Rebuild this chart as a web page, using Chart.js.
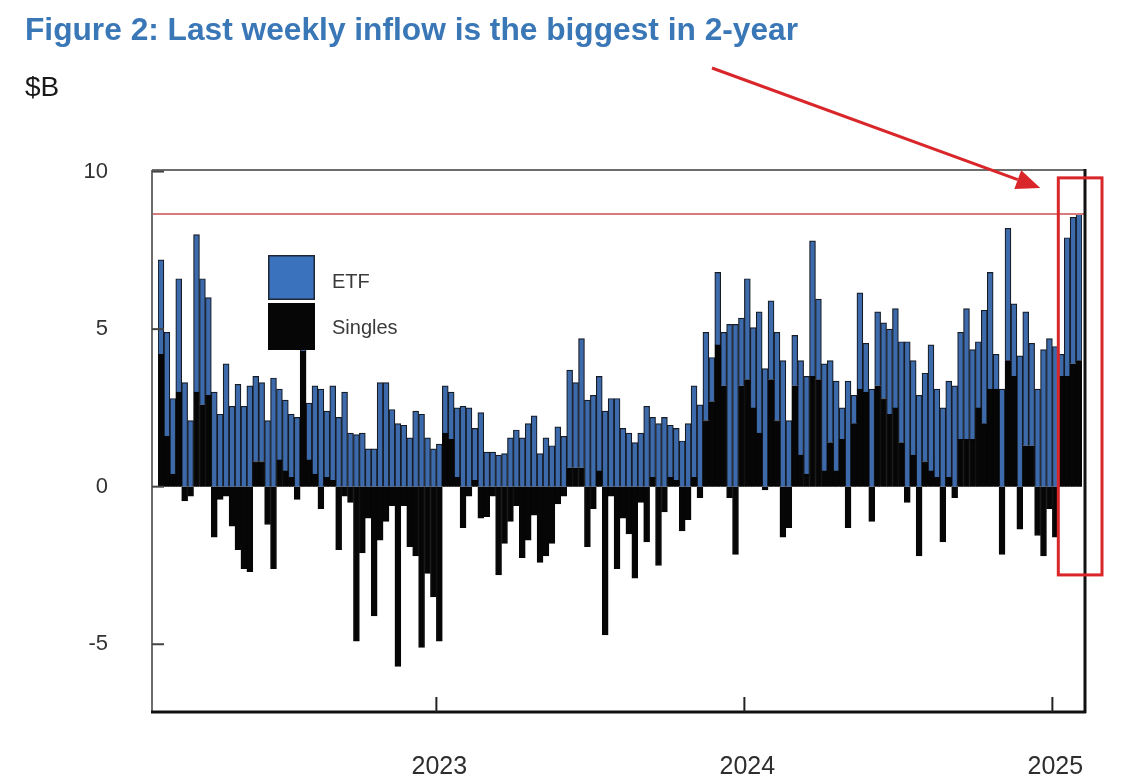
<!DOCTYPE html>
<html>
<head>
<meta charset="utf-8">
<title>Figure 2: Last weekly inflow is the biggest in 2-year</title>
<script src="https://cdn.jsdelivr.net/npm/chart.js@4.4.1/dist/chart.umd.min.js"></script>
<style>
  html, body { margin: 0; padding: 0; background: #fff; }
  #wrap { position: relative; width: 1134px; height: 784px; overflow: hidden; }
  #chart { position: absolute; left: 0; top: 0; }
  .title {
    position: absolute; left: 25px; top: 14px; white-space: nowrap;
    font: bold 31.7px 'Liberation Sans', Arial, sans-serif; line-height: 1;
    color: #3a77b7;
  }
  .unit {
    position: absolute; left: 25px; top: 73px;
    font: 28px 'Liberation Sans', Arial, sans-serif; line-height: 1;
    color: #1a1a1a;
  }
</style>
</head>
<body>
<div id="wrap">
  <canvas id="chart" width="1134" height="784"></canvas>
  <div class="title">Figure 2: Last weekly inflow is the biggest in 2-year</div>
  <div class="unit">$B</div>
</div>
<script>
// Weekly retail net flows, $B
const WEEK_START = '2022-02-11';
const WEEK_COUNT = 156;

const SINGLES = [
  4.2, 1.6, 0.4, 3.0, -0.45, -0.3, 3.0, 2.6, 2.9, -1.6,
  -0.4, -0.3, -1.25, -2.0, -2.6, -2.7, 0.8, 0.8, -1.2, -2.6,
  0.85, 0.5, 0.3, -0.4, 4.3, 0.85, 0.4, -0.7, 0.3, 0.2,
  -2.0, -0.3, -0.5, -4.9, -2.1, -1.0, -4.1, -1.7, -1.1, -0.6,
  -5.7, -0.6, -1.9, -2.2, -5.1, -2.75, -3.5, -4.9, 1.7, 1.5,
  0.3, -1.3, -0.3, 0.2, -1.0, -0.95, -0.3, -2.8, -1.8, -1.1,
  -0.6, -2.25, -1.7, -0.9, -2.4, -2.2, -1.8, -0.55, -0.3, 0.6,
  0.6, 0.6, -1.9, -0.7, 0.5, -4.7, -0.3, -2.6, -1.0, -1.5,
  -2.9, -0.5, -1.75, 0.3, -2.5, -0.8, 0.3, 0.2, -1.4, -1.05,
  0.3, -0.35, 2.1, 2.7, 4.5, 3.2, -0.35, -2.15, 3.2, 3.4,
  2.5, 1.7, -0.1, 3.4, 2.1, -1.6, -1.3, 3.2, 1.0, 0.4,
  3.5, 3.4, 0.5, 1.4, 0.5, 1.5, -1.3, 2.0, 3.1, 3.0,
  -1.1, 3.2, 2.8, 2.3, 2.5, 1.4, -0.5, 1.0, -2.2, 0.8,
  0.5, 0.3, -1.75, 0.3, -0.35, 1.5, 1.5, 1.5, 2.5, 2.0,
  3.1, 3.1, -2.15, 4.0, 3.5, -1.35, 1.3, 1.3, -1.55, -2.2,
  -0.7, -1.6, 3.5, 3.5, 3.9, 4.0
];

const ETF = [
  3.0, 3.3, 2.4, 3.6, 3.3, 2.1, 5.0, 4.0, 3.1, 3.0,
  2.3, 3.9, 2.55, 3.25, 2.55, 3.2, 2.7, 2.5, 2.1, 3.45,
  2.25, 2.25, 2.0, 2.2, 0.3, 1.8, 2.8, 3.1, 2.1, 3.0,
  2.2, 3.0, 1.7, 1.65, 1.7, 1.2, 1.2, 3.3, 3.3, 2.45,
  2.0, 1.95, 1.55, 2.4, 2.3, 1.55, 1.2, 1.35, 1.5, 1.5,
  2.2, 2.55, 2.5, 1.65, 2.35, 1.1, 1.1, 1.0, 1.05, 1.55,
  1.8, 1.55, 2.0, 2.25, 1.05, 1.55, 1.3, 1.9, 1.6, 3.1,
  2.7, 4.1, 2.75, 2.9, 3.0, 2.4, 2.8, 2.8, 1.85, 1.7,
  1.4, 1.7, 2.55, 1.9, 2.0, 2.2, 1.65, 1.65, 1.45, 2.0,
  2.9, 2.6, 2.8, 1.4, 2.3, 1.7, 5.15, 5.15, 2.15, 3.2,
  2.55, 3.85, 3.75, 2.5, 2.8, 4.0, 2.1, 1.6, 3.0, 3.1,
  4.3, 2.55, 3.4, 2.6, 2.85, 1.0, 3.35, 0.9, 3.05, 1.55,
  3.1, 2.35, 2.4, 2.7, 3.15, 3.2, 4.6, 3.0, 2.9, 2.8,
  4.0, 2.8, 2.5, 3.05, 3.2, 3.4, 4.15, 2.85, 2.1, 3.6,
  3.7, 1.1, 3.1, 4.2, 2.3, 4.15, 4.25, 3.25, 3.1, 4.35,
  4.7, 4.45, 0.7, 4.4, 4.65, 4.65
];

const Y_TICKS = [-5, 0, 5, 10];
const Y_MIN = -7.15;
const Y_MAX = 10.05;
const REF_LINE = 8.65;          // 2-year high marker

// Red highlight box round the last weeks
const HIGHLIGHT_FROM = 152;
const HIGHLIGHT_TOP = 9.8;
const HIGHLIGHT_BOTTOM = -2.8;

const FONT = "'Liberation Sans', Arial, sans-serif";
const ETF_COLOR = '#3d6aab';
const ETF_SWATCH = '#3a72bd';
const SINGLES_COLOR = '#060606';

// The drawn frame sits a little outside the bar area
const FRAME_LEFT = 6;
const FRAME_RIGHT = 3;

// Week categories (Fridays)
const WEEKS = [];
for (let i = 0; i < WEEK_COUNT; i++) {
    const d = new Date(WEEK_START + 'T00:00:00Z');
    d.setUTCDate(d.getUTCDate() + 7 * i);
    WEEKS.push(d.toISOString().slice(0, 10));
}

function yearOf(i) {
    return WEEKS[i].slice(0, 4);
}

function isYearStart(i) {
    return i > 0 && yearOf(i) !== yearOf(i - 1);
}

function line(ctx, x1, y1, x2, y2) {
    ctx.beginPath();
    ctx.moveTo(x1, y1);
    ctx.lineTo(x2, y2);
    ctx.stroke();
}

// Frame, ticks, legend and the red annotations
const chartDecor = {
    id: 'chartDecor',
    afterDatasetsDraw(chart) {
        const { ctx, chartArea: a, scales: { x, y } } = chart;
        const fl = a.left - FRAME_LEFT, fr = a.right + FRAME_RIGHT;
        ctx.save();

        // 2-year high line
        const yRef = y.getPixelForValue(REF_LINE);
        ctx.strokeStyle = '#d97a7c';
        ctx.lineWidth = 2;
        line(ctx, fl, yRef, fr, yRef);

        // Plot frame: light top/left, heavy right/bottom
        ctx.strokeStyle = '#6d6d6d';
        ctx.lineWidth = 2;
        line(ctx, fl, a.top, fr, a.top);
        line(ctx, fl, a.top, fl, a.bottom);
        ctx.strokeStyle = '#111';
        ctx.lineWidth = 3;
        line(ctx, fr, a.top - 1, fr, a.bottom + 1);
        line(ctx, fl - 1, a.bottom, fr + 1, a.bottom);

        // Inward y tick marks
        ctx.strokeStyle = '#444';
        ctx.lineWidth = 2;
        Y_TICKS.forEach(v => {
            const py = y.getPixelForValue(v);
            line(ctx, fl, py, fl + 12, py);
        });

        // Inward year marks at year boundaries
        ctx.strokeStyle = '#222';
        for (let i = 1; i < WEEKS.length; i++) {
            if (!isYearStart(i)) continue;
            const px = (x.getPixelForValue(i - 1) + x.getPixelForValue(i)) / 2;
            line(ctx, px, a.bottom, px, a.bottom - 15);
        }

        // Legend inside the plot
        const lx = fl + 116, ly = a.top + 85, sw = 47, sh = 45;
        const etf = chart.data.datasets[1], singles = chart.data.datasets[0];
        ctx.fillStyle = ETF_SWATCH;
        ctx.fillRect(lx, ly, sw, sh);
        ctx.strokeStyle = '#1d2735';
        ctx.lineWidth = 1.5;
        ctx.strokeRect(lx + 0.75, ly + 0.75, sw - 1.5, sh - 1.5);
        ctx.fillStyle = singles.backgroundColor;
        ctx.fillRect(lx, ly + sh + 3, sw, sh + 2);
        ctx.fillStyle = '#3a3a3a';
        ctx.font = `20px ${FONT}`;
        ctx.textBaseline = 'middle';
        ctx.fillText(etf.label, lx + 64, ly + 27);
        ctx.fillText(singles.label, lx + 64, ly + sh + 28);

        // Red highlight box
        const bx = (x.getPixelForValue(HIGHLIGHT_FROM - 1) + x.getPixelForValue(HIGHLIGHT_FROM)) / 2;
        const by = y.getPixelForValue(HIGHLIGHT_TOP);
        const bb = y.getPixelForValue(HIGHLIGHT_BOTTOM);
        const br = fr + 17;
        ctx.strokeStyle = '#d9262a';
        ctx.lineWidth = 3;
        ctx.strokeRect(bx, by, br - bx, bb - by);

        // Red arrow from the title towards the box
        const sx = 712, sy = 68, tx = bx - 18, ty = by + 10;
        const ang = Math.atan2(ty - sy, tx - sx);
        const hl = 24, hw = 10;
        const ex = tx - hl * Math.cos(ang), ey = ty - hl * Math.sin(ang);
        line(ctx, sx, sy, ex, ey);
        ctx.fillStyle = '#d9262a';
        ctx.beginPath();
        ctx.moveTo(tx, ty);
        ctx.lineTo(ex + hw * Math.sin(ang), ey - hw * Math.cos(ang));
        ctx.lineTo(ex - hw * Math.sin(ang), ey + hw * Math.cos(ang));
        ctx.closePath();
        ctx.fill();

        ctx.restore();
    }
};

const ctx = document.getElementById('chart').getContext('2d');
new Chart(ctx, {
    type: 'bar',
    data: {
        labels: WEEKS,
        datasets: [
            { label: 'Singles', data: SINGLES, backgroundColor: SINGLES_COLOR, borderColor: SINGLES_COLOR, borderWidth: 1, stack: 'flow' },
            { label: 'ETF', data: ETF, backgroundColor: ETF_COLOR, borderColor: '#161c26', borderWidth: 1.2, stack: 'flow' }
        ]
    },
    options: {
        responsive: false,
        animation: false,
        layout: { padding: { left: 0, right: 52, top: 170, bottom: 0 } },
        datasets: { bar: { barPercentage: 1, categoryPercentage: 1 } },
        plugins: { legend: { display: false }, tooltip: { enabled: false } },
        scales: {
            x: {
                stacked: true,
                grid: { display: false, drawTicks: false },
                border: { display: false },
                ticks: {
                    autoSkip: false,
                    maxRotation: 0,
                    minRotation: 0,
                    padding: 40,
                    color: '#2e2e2e',
                    font: { family: FONT, size: 25 },
                    callback: (v, i) => (isYearStart(i) ? yearOf(i) : null)
                },
                afterFit: s => { s.height = 72; }
            },
            y: {
                stacked: true,
                min: Y_MIN,
                max: Y_MAX,
                grid: { display: false, drawTicks: false },
                border: { display: false },
                ticks: { padding: 50, color: '#333', font: { family: FONT, size: 22 } },
                afterBuildTicks: s => { s.ticks = Y_TICKS.map(v => ({ value: v })); },
                afterFit: s => { s.width = 158; }
            }
        }
    },
    plugins: [chartDecor]
});
</script>
</body>
</html>
